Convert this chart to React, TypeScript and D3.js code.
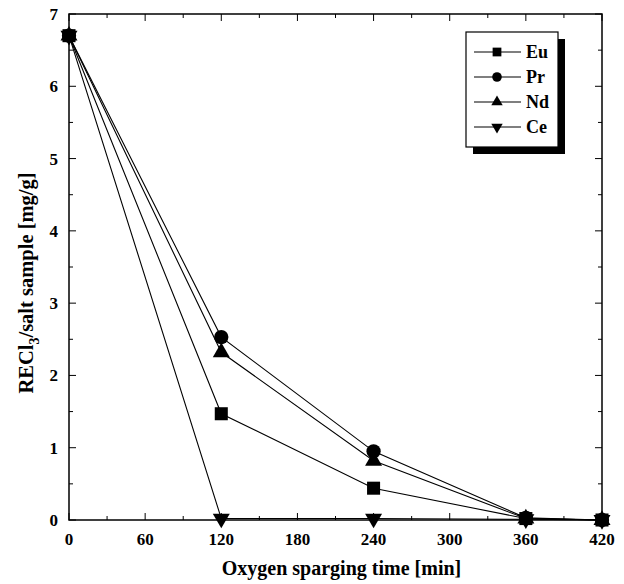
import { useEffect, useRef } from 'react';
import * as d3 from 'd3';

const times = [0, 120, 240, 360, 420];
const euValues = [6.7, 1.47, 0.44, 0.02, 0.0];
const prValues = [6.7, 2.53, 0.95, 0.03, 0.0];
const ndValues = [6.7, 2.32, 0.82, 0.02, 0.0];
const ceValues = [6.7, 0.02, 0.02, 0.01, 0.0];
const seriesNames = ['Eu', 'Pr', 'Nd', 'Ce'];
const xTicks = [0, 60, 120, 180, 240, 300, 360, 420];
const yTicks = [0, 1, 2, 3, 4, 5, 6, 7];

const FONT = '"Liberation Serif", "Times New Roman", serif';

function App() {
  const svgRef = useRef<SVGSVGElement>(null);

  useEffect(() => {
    if (!svgRef.current) return;
    const svg = d3.select(svgRef.current);
    svg.selectAll('*').remove();

    const margin = { top: 14, right: 22, bottom: 64, left: 69 };
    const width = 624;
    const height = 584;
    const innerWidth = width - margin.left - margin.right;
    const innerHeight = height - margin.top - margin.bottom;

    const g = svg.append('g').attr('transform', `translate(${margin.left}, ${margin.top})`);

    const x = d3.scaleLinear().domain([0, 420]).range([0, innerWidth]);
    const y = d3.scaleLinear().domain([0, 7]).range([innerHeight, 0]);

    const series = [
      { name: seriesNames[0], values: euValues, symbol: d3.symbolSquare, size: 170, rotate: 0 },
      { name: seriesNames[1], values: prValues, symbol: d3.symbolCircle, size: 160, rotate: 0 },
      { name: seriesNames[2], values: ndValues, symbol: d3.symbolTriangle, size: 125, rotate: 0 },
      { name: seriesNames[3], values: ceValues, symbol: d3.symbolTriangle, size: 125, rotate: 180 },
    ];

    // Ticks (inward, all four sides)
    const minorX = d3.range(0, 421, 30);
    const minorY = d3.range(0, 7.01, 0.5);
    const tickG = g.append('g').attr('stroke', '#000').attr('stroke-width', 1);
    minorX.forEach(t => {
      const len = t % 60 === 0 ? 7 : 4;
      tickG.append('line').attr('x1', x(t)).attr('x2', x(t)).attr('y1', innerHeight).attr('y2', innerHeight - len);
      tickG.append('line').attr('x1', x(t)).attr('x2', x(t)).attr('y1', 0).attr('y2', len);
    });
    minorY.forEach(t => {
      const len = Math.abs(t - Math.round(t)) < 1e-6 ? 7 : 4;
      tickG.append('line').attr('y1', y(t)).attr('y2', y(t)).attr('x1', 0).attr('x2', len);
      tickG.append('line').attr('y1', y(t)).attr('y2', y(t)).attr('x1', innerWidth).attr('x2', innerWidth - len);
    });

    // Frame
    g.append('rect')
      .attr('width', innerWidth)
      .attr('height', innerHeight)
      .attr('fill', 'none')
      .attr('stroke', '#000')
      .attr('stroke-width', 1.5);

    // Tick labels
    g.selectAll('.xlab')
      .data(xTicks)
      .enter()
      .append('text')
      .attr('x', d => x(d))
      .attr('y', innerHeight + 25)
      .attr('text-anchor', 'middle')
      .style('font-family', FONT)
      .style('font-weight', 'bold')
      .style('font-size', '17px')
      .text(d => d);

    g.selectAll('.ylab')
      .data(yTicks)
      .enter()
      .append('text')
      .attr('x', -11)
      .attr('y', d => y(d) + 6)
      .attr('text-anchor', 'end')
      .style('font-family', FONT)
      .style('font-weight', 'bold')
      .style('font-size', '17px')
      .text(d => d);

    // Axis titles
    g.append('text')
      .attr('x', (216 + 467) / 2 - margin.left)
      .attr('y', innerHeight + 55)
      .attr('text-anchor', 'middle')
      .style('font-family', FONT)
      .style('font-weight', 'bold')
      .style('font-size', '20px')
      .text('Oxygen sparging time [min]');

    const yt = g.append('text')
      .attr('transform', `translate(-36, ${innerHeight / 2 + 16}) rotate(-90)`)
      .attr('text-anchor', 'middle')
      .style('font-family', FONT)
      .style('font-weight', 'bold')
      .style('font-size', '20.5px');
    yt.append('tspan').text('RECl');
    yt.append('tspan').attr('dy', 6).style('font-size', '14px').text('3');
    yt.append('tspan').attr('dy', -6).text('/salt sample [mg/g]');

    // Lines
    const line = d3.line<number>()
      .x((_, i) => x(times[i]))
      .y(d => y(d));

    series.forEach(s => {
      g.append('path')
        .datum(s.values)
        .attr('fill', 'none')
        .attr('stroke', '#000')
        .attr('stroke-width', 1.1)
        .attr('d', line);
    });

    // Markers
    series.slice().reverse().forEach(s => {
      const sym = d3.symbol().type(s.symbol).size(s.size);
      g.selectAll(null)
        .data(s.values)
        .enter()
        .append('path')
        .attr('d', sym)
        .attr('transform', (d, i) => `translate(${x(times[i])}, ${y(d)}) rotate(${s.rotate})`)
        .attr('fill', '#000');
    });

    // Legend
    const lx = 466 - margin.left;
    const ly = 32 - margin.top;
    const lw = 92;
    const lh = 115;
    const legend = g.append('g').attr('transform', `translate(${lx}, ${ly})`);
    legend.append('rect').attr('x', 7).attr('y', 7).attr('width', lw).attr('height', lh).attr('fill', '#000');
    legend.append('rect').attr('width', lw).attr('height', lh).attr('fill', '#fff').attr('stroke', '#000').attr('stroke-width', 1.2);
    series.forEach((s, i) => {
      const ry = 20 + i * 25;
      legend.append('line').attr('x1', 8).attr('x2', 55).attr('y1', ry).attr('y2', ry).attr('stroke', '#000').attr('stroke-width', 1.1);
      legend.append('path')
        .attr('d', d3.symbol().type(s.symbol).size(s.size * 0.45)())
        .attr('transform', `translate(31, ${ry}) rotate(${s.rotate})`)
        .attr('fill', '#000');
      legend.append('text')
        .attr('x', 60)
        .attr('y', ry + 6)
        .style('font-family', FONT)
        .style('font-weight', 'bold')
        .style('font-size', '18px')
        .text(s.name);
    });
  }, []);

  return (
    <div style={{ position: 'absolute', left: 0, top: 0, background: '#fff' }}>
      <svg ref={svgRef} width={624} height={584} />
    </div>
  );
}

export default App;
